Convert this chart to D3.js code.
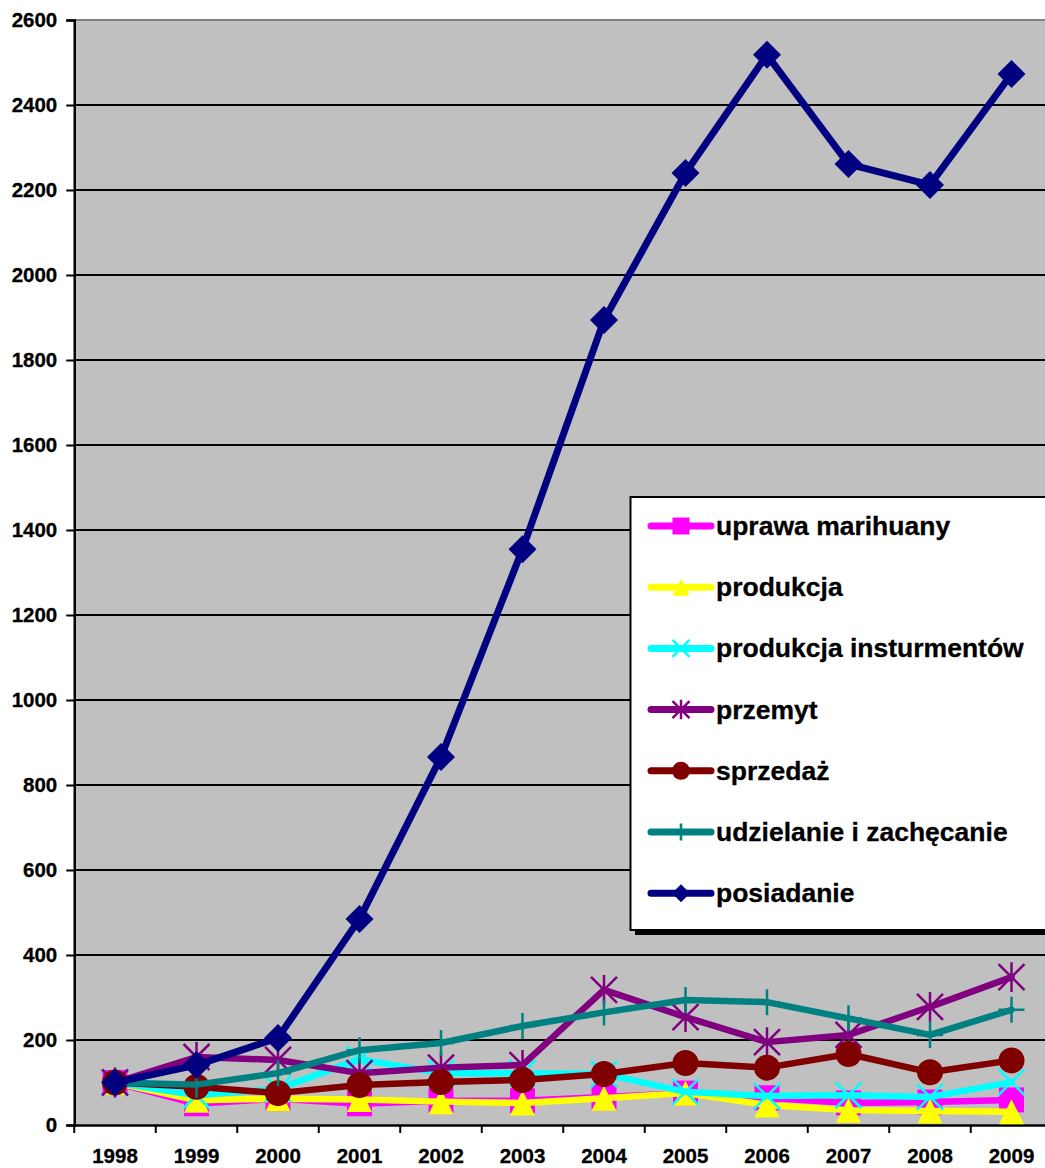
<!DOCTYPE html>
<html>
<head>
<meta charset="utf-8">
<script src="https://cdn.jsdelivr.net/npm/d3@7"></script>
<style>
html,body{margin:0;padding:0;background:#fff;}
svg{display:block;}
text{font-family:"Liberation Sans",Arial,sans-serif;font-weight:bold;fill:#000;}
</style>
</head>
<body>
<svg id="chart" width="1045" height="1168"></svg>
<script>
const years = ["1998","1999","2000","2001","2002","2003","2004","2005","2006","2007","2008","2009"];
const yTicks = [0,200,400,600,800,1000,1200,1400,1600,1800,2000,2200,2400,2600];

const uprawaMarihuany = [100,50,62,50,57,57,66,75,64,52,54,59];
const produkcja = [100,58,62,60,55,52,63,75,47,35,33,31];
const produkcjaInstrumentow = [100,70,85,155,122,122,120,78,68,70,66,101];
const przemyt = [100,160,153,122,135,141,318,254,195,212,278,348];
const sprzedaz = [100,90,75,94,101,106,120,146,135,167,124,152];
const udzielanie = [100,95,122,176,193,233,265,294,289,251,212,271];
const posiadanie = [100,141,205,485,866,1355,1894,2240,2518,2261,2212,2473];

const seriesNames = ["uprawa marihuany","produkcja","produkcja insturmentów","przemyt","sprzedaż","udzielanie i zachęcanie","posiadanie"];
const seriesValues = [uprawaMarihuany,produkcja,produkcjaInstrumentow,przemyt,sprzedaz,udzielanie,posiadanie];
const seriesColors = ["#FF00FF","#FFFF00","#00FFFF","#800080","#800000","#008080","#000080"];
const seriesMarkers = ["square","triangle","x","star","circle","plus","diamond"];

(function(){
const svg = d3.select("#chart");
const pLeft = 74.25, pTop = 20, pBottom = 1125;
const x = d3.scaleBand().domain(years).range([pLeft, pLeft + 81.5*12]);
const y = d3.scaleLinear().domain([0,2600]).range([pBottom, pTop]);
const cx = d => x(d) + x.bandwidth()/2;

svg.append("rect").attr("x", pLeft).attr("y", pTop).attr("width", 81.5*12).attr("height", pBottom-pTop).attr("fill", "#C0C0C0");
svg.append("line").attr("x1", pLeft).attr("x2", 1045).attr("y1", pTop).attr("y2", pTop).attr("stroke", "#808080").attr("stroke-width", 2);

svg.append("g").selectAll("line").data(yTicks.filter(t => t>0 && t<2600)).join("line")
  .attr("x1", pLeft).attr("x2", 1045).attr("y1", d=>y(d)).attr("y2", d=>y(d))
  .attr("stroke", "#000").attr("stroke-width", 2);

const yAxis = d3.axisLeft(y).tickValues(yTicks).tickSize(8).tickPadding(9).tickFormat(d3.format("d"));
const gy = svg.append("g").attr("transform", `translate(${pLeft},0)`).call(yAxis);
gy.select(".domain").attr("stroke", "#000").attr("stroke-width", 2.5);
gy.selectAll(".tick line").attr("stroke", "#000").attr("stroke-width", 2);
gy.selectAll(".tick text").attr("font-size", 20.5).attr("font-family", "Liberation Sans").attr("font-weight", "bold").attr("fill", "#000").attr("stroke","#000").attr("stroke-width",0.3);

const xAxis = d3.axisBottom(x).tickSize(0).tickPadding(23);
const gx = svg.append("g").attr("transform", `translate(0,${pBottom})`).call(xAxis);
gx.select(".domain").attr("stroke", "#000").attr("stroke-width", 2.5);
gx.selectAll(".tick text").attr("font-size", 20.5).attr("font-family", "Liberation Sans").attr("font-weight", "bold").attr("fill", "#000").attr("stroke","#000").attr("stroke-width",0.3);
gx.append("g").selectAll("line").data(years).join("line")
  .attr("x1", d=>x(d)).attr("x2", d=>x(d)).attr("y1", 0).attr("y2", 8)
  .attr("stroke", "#000").attr("stroke-width", 2);

function drawMarker(g, type, color, s) {
  const h = s/2;
  if (type === "square") {
    g.append("rect").attr("x",-h).attr("y",-h).attr("width",s).attr("height",s).attr("fill",color);
  } else if (type === "triangle") {
    g.append("path").attr("d",`M0,${-h}L${h},${h}L${-h},${h}Z`).attr("fill",color);
  } else if (type === "diamond") {
    g.append("path").attr("d",`M0,${-h}L${h},0L0,${h}L${-h},0Z`).attr("fill",color);
  } else if (type === "circle") {
    g.append("circle").attr("r",h).attr("fill",color);
  } else if (type === "x") {
    g.append("path").attr("d",`M${-h},${-h}L${h},${h}M${-h},${h}L${h},${-h}`).attr("stroke",color).attr("stroke-width",2.5).attr("fill","none");
  } else if (type === "star") {
    g.append("path").attr("d",`M${-h},${-h}L${h},${h}M${-h},${h}L${h},${-h}M0,${-h*1.15}L0,${h*1.15}`).attr("stroke",color).attr("stroke-width",2.5).attr("fill","none");
  } else if (type === "plus") {
    g.append("path").attr("d",`M0,${-h}L0,${h}M${-h},0L${h},0`).attr("stroke",color).attr("stroke-width",2.5).attr("fill","none");
  }
}

const line = d3.line().x((d,i)=>cx(years[i])).y(d=>y(d));
const markerSizes = {square:25, triangle:25, x:26, star:26, plus:26, circle:26, diamond:28};

seriesValues.forEach((vals, si) => {
  const g = svg.append("g");
  g.append("path").datum(vals).attr("d", line).attr("fill","none")
    .attr("stroke", seriesColors[si]).attr("stroke-width", si===6 ? 7 : 6.5)
    .attr("stroke-linejoin","round").attr("stroke-linecap","round");
  vals.forEach((v,i) => {
    const mg = g.append("g").attr("transform", `translate(${cx(years[i])},${y(v)})`);
    drawMarker(mg, seriesMarkers[si], seriesColors[si], markerSizes[seriesMarkers[si]]);
  });
});

const lg = svg.append("g");
lg.append("rect").attr("x", 635).attr("y", 502).attr("width", 420).attr("height", 433).attr("fill", "#000");
lg.append("rect").attr("x", 630.5).attr("y", 497).attr("width", 420).attr("height", 433).attr("fill", "#fff").attr("stroke","#000").attr("stroke-width",2);
const legSize = {square:17, triangle:17, x:17, star:17, plus:17, circle:18, diamond:18};
seriesNames.forEach((name, i) => {
  const yy = 526 + i*61.2;
  const row = lg.append("g").attr("transform", `translate(0,${yy})`);
  row.append("line").attr("x1", 651).attr("x2", 711).attr("y1", 0).attr("y2", 0)
    .attr("stroke", seriesColors[i]).attr("stroke-width", 7).attr("stroke-linecap","round");
  const mg = row.append("g").attr("transform", "translate(681,0)");
  drawMarker(mg, seriesMarkers[i], seriesColors[i], legSize[seriesMarkers[i]]);
  row.append("text").attr("x", 716).attr("y", 9).attr("font-size", 26.5).attr("stroke","#000").attr("stroke-width",0.3).text(name);
});
})();
</script>
</body>
</html>
